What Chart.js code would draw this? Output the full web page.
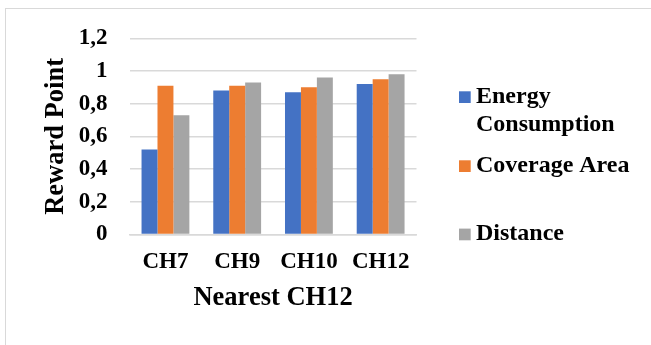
<!DOCTYPE html>
<html>
<head>
<meta charset="utf-8">
<script src="https://cdn.jsdelivr.net/npm/chart.js@4/dist/chart.umd.min.js"></script>
<style>
  html, body { margin: 0; padding: 0; background: #fff; overflow: hidden; }
  #frame { position: absolute; left: 5px; top: 8px; width: 700px; height: 400px;
           border: 1.5px solid #d9d9d9; box-sizing: border-box; }
  #wrap { position: absolute; left: 0; top: 0; width: 651px; height: 345px; }
</style>
</head>
<body>
<div id="frame"></div>
<div id="wrap"><canvas id="chart" width="651" height="345"></canvas></div>
<script>
// Reward points per cluster head
const categories = ['CH7', 'CH9', 'CH10', 'CH12'];
const energyConsumption = [0.52, 0.88, 0.87, 0.92];
const coverageArea = [0.91, 0.91, 0.90, 0.95];
const distance = [0.73, 0.93, 0.96, 0.98];
const yTickLabels = ['0', '0,2', '0,4', '0,6', '0,8', '1', '1,2'];
const seriesNames = ['Energy Consumption', 'Coverage Area', 'Distance'];
const seriesColors = ['#4472C4', '#ED7D31', '#A5A5A5'];

const FAMILY = '"Liberation Serif", "Times New Roman", serif';

// Split a label into lines no wider than maxWidth
function wrapText(ctx, text, maxWidth) {
  const words = text.split(' ');
  const lines = [];
  let line = '';
  words.forEach(w => {
    const test = line ? line + ' ' + w : w;
    if (line && ctx.measureText(test).width > maxWidth) {
      lines.push(line);
      line = w;
    } else {
      line = test;
    }
  });
  if (line) lines.push(line);
  return lines;
}

// Legend drawn to the right of the plot, one entry per dataset
const sideLegend = {
  id: 'sideLegend',
  afterDraw(chart, args, opts) {
    const ctx = chart.ctx;
    ctx.save();
    ctx.font = opts.font;
    ctx.textAlign = 'left';
    ctx.textBaseline = 'alphabetic';
    chart.data.datasets.forEach((ds, i) => {
      const base = opts.baselines[i];
      ctx.fillStyle = ds.backgroundColor;
      ctx.fillRect(opts.boxX, base - opts.boxSize + 0.3, opts.boxSize, opts.boxSize);
      ctx.fillStyle = '#000';
      wrapText(ctx, ds.label, opts.maxWidth).forEach((ln, j) => {
        ctx.fillText(ln, opts.textX, base + j * opts.lineHeight);
      });
    });
    ctx.restore();
  }
};

const seriesValues = [energyConsumption, coverageArea, distance];

new Chart(document.getElementById('chart'), {
  type: 'bar',
  data: {
    labels: categories,
    datasets: seriesValues.map((vals, i) => ({
      label: seriesNames[i],
      data: vals,
      backgroundColor: seriesColors[i],
      borderWidth: 0,
      categoryPercentage: 0.667,
      barPercentage: 1.0
    }))
  },
  options: {
    responsive: false,
    animation: false,
    devicePixelRatio: 1,
    layout: { padding: { left: 0, top: 38.3, right: 234.5, bottom: 0 } },
    plugins: {
      legend: { display: false },
      tooltip: { enabled: false },
      sideLegend: {
        font: 'bold 24px ' + FAMILY,
        boxX: 459,
        boxSize: 11.7,
        textX: 476,
        maxWidth: 170,
        lineHeight: 28,
        baselines: [102.7, 171.7, 240]
      }
    },
    scales: {
      x: {
        grid: { display: false, drawTicks: false },
        border: { display: true, color: '#d9d9d9', width: 1.5 },
        ticks: {
          color: '#000',
          padding: 14,
          maxRotation: 0,
          font: { family: FAMILY, size: 23, weight: 'bold' }
        },
        title: {
          display: true,
          text: 'Nearest CH12',
          color: '#000',
          font: { family: FAMILY, size: 26.5, weight: 'bold' },
          padding: { top: 0, bottom: 31 }
        },
        afterFit(scale) { scale.height = 345 - 234.5; }
      },
      y: {
        min: 0,
        max: 1.2,
        grid: { color: '#d9d9d9', lineWidth: 1.5, drawTicks: false },
        border: { display: false },
        ticks: {
          stepSize: 0.2,
          color: '#000',
          padding: 22,
          font: { family: FAMILY, size: 23, weight: 'bold' },
          callback: (v, i) => yTickLabels[i]
        },
        title: {
          display: true,
          text: 'Reward Point',
          color: '#000',
          font: { family: FAMILY, size: 26.5, weight: 'bold' },
          padding: { top: 40, bottom: 0 }
        },
        afterFit(scale) { scale.width = 129.6; }
      }
    }
  },
  plugins: [sideLegend]
});
</script>
</body>
</html>
